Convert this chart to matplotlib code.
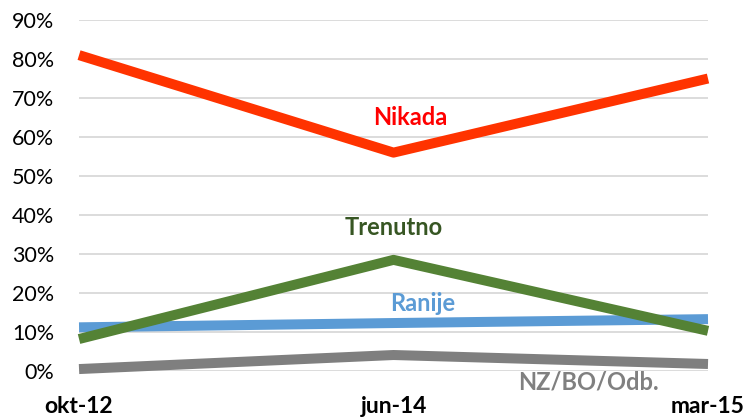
import matplotlib
matplotlib.use('Agg')
import matplotlib.pyplot as plt
import matplotlib.transforms as mtransforms

plt.rcParams['font.family'] = ['Lato', 'DejaVu Sans']

periods = ['okt-12', 'jun-14', 'mar-15']
nikada = [81, 56, 75]
trenutno = [8.2, 28.5, 10.3]
ranije = [11.2, 12.3, 13.3]
nz_bo = [0.5, 4.1, 1.8]

series = [
    ('Nikada', nikada, '#FF3300', '#FF0000', 0.526, 65),
    ('Trenutno', trenutno, '#548235', '#375623', 0.5, 36.7),
    ('Ranije', ranije, '#5B9BD5', '#5B9BD5', 0.547, 17.4),
    ('NZ/BO/Odb.', nz_bo, '#7F7F7F', '#808080', 0.81, -2.9),
]

fig = plt.figure(figsize=(7.47, 4.17), dpi=100)
ax = fig.add_axes([0.1058, 0.1103, 0.8420, 0.8417])

x = list(range(len(periods)))
for name, vals, col, tcol, lx, ly in series[::-1]:
    ax.plot(x, vals, color=col, linewidth=7.2, solid_capstyle='butt', clip_on=False, zorder=3)
    ax.text(lx, ly, name, transform=mtransforms.blended_transform_factory(ax.transAxes, ax.transData),
            color=tcol, fontsize=17, fontweight='bold', ha='center', va='center')

ax.set_xlim(0, 2)
ax.set_ylim(0, 90)
ax.set_yticks(range(0, 91, 10))
ax.set_yticklabels([f'{v}%' for v in range(0, 91, 10)], fontsize=15.5)
ax.set_xticks(x)
ax.set_xticklabels(periods, fontsize=16.5, fontweight='bold')
ax.tick_params(length=0)
ax.tick_params(axis='y', pad=18)
ax.tick_params(axis='x', pad=18)
ax.grid(axis='y', color='#D9D9D9', linewidth=1.3)
ax.set_axisbelow(True)
for s in ax.spines.values():
    s.set_visible(False)

fig.savefig('out.png', dpi=100)
